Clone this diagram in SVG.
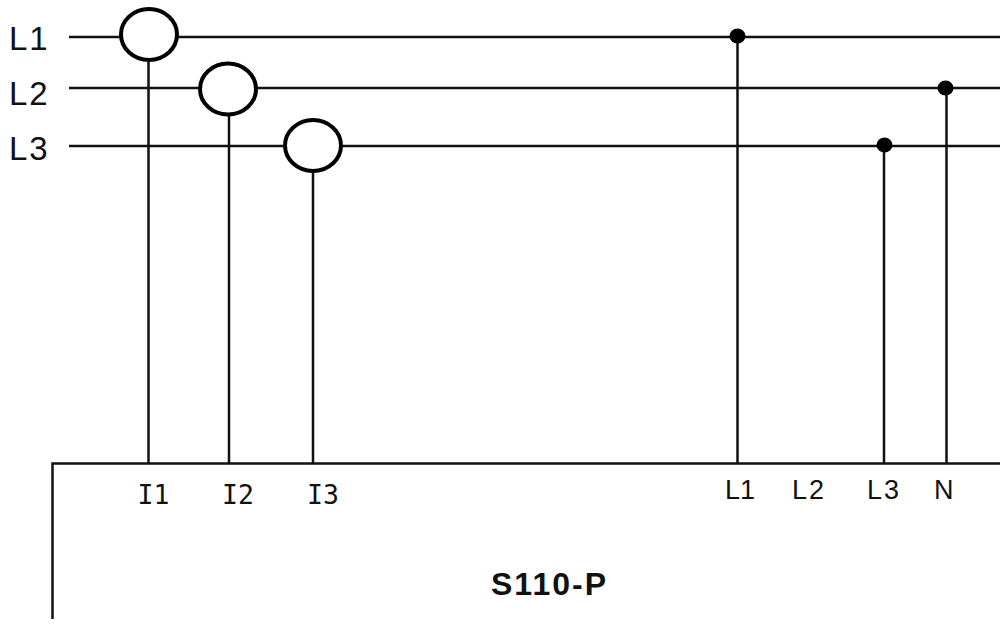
<svg xmlns="http://www.w3.org/2000/svg" width="1000" height="626" viewBox="0 0 1000 626">
<style>
.w{fill:none;stroke:#111;stroke-width:2.500}
.ct{fill:#fff;stroke:#000;stroke-width:4}
.d{fill:#000}
text{font-family:"Liberation Sans",Arial,sans-serif;fill:#111}
.p{font-size:33px;letter-spacing:2px}
.t{font-size:27px}
.s{font-family:"DejaVu Sans Mono",monospace;font-size:26.500px}
</style>
<rect width="1000" height="626" fill="#fff"/>
<g id="connectors">
<path class="w" d="M69 37H1000M69 88H1000M69 146H1000"/>
<path class="w" d="M148.500 62V463M229 116V463M313 173V463M737.500 36V463M884 145V463M946.500 88V463"/>
<path class="w" d="M1000 463.500H52.500V619"/>
</g>
<g id="phase-L1"><text class="p" x="9" y="50">L1</text></g>
<g id="phase-L2"><text class="p" x="9" y="105">L2</text></g>
<g id="phase-L3"><text class="p" x="9" y="160">L3</text></g>
<g id="ct-1"><ellipse class="ct" cx="149" cy="34.500" rx="28" ry="25.500"/></g>
<g id="ct-2"><ellipse class="ct" cx="228" cy="89" rx="28" ry="25.500"/></g>
<g id="ct-3"><ellipse class="ct" cx="313" cy="145.500" rx="28" ry="25.500"/></g>
<g id="junction-L1"><ellipse class="d" cx="737.500" cy="36" rx="8" ry="7.500"/></g>
<g id="junction-L2"><ellipse class="d" cx="945.500" cy="88" rx="8" ry="7.500"/></g>
<g id="junction-L3"><ellipse class="d" cx="884.500" cy="145" rx="8" ry="7.500"/></g>
<g id="device-S110-P">
<text class="s" x="137.500" y="504">I1</text>
<text class="s" x="222" y="504">I2</text>
<text class="s" x="307" y="504">I3</text>
<text class="t" x="725" y="498.500">L1</text>
<text class="t" x="792" y="498.500" letter-spacing="2">L2</text>
<text class="t" x="867" y="498.500" letter-spacing="2">L3</text>
<text class="t" x="934" y="498.500">N</text>
<text x="491" y="594.500" font-size="32" font-weight="700" letter-spacing="2">S110-P</text>
</g>
</svg>
